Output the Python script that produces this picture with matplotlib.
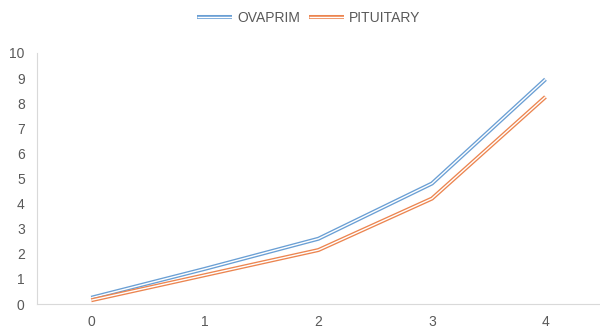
import matplotlib
matplotlib.use('Agg')
import matplotlib.pyplot as plt
import matplotlib.patheffects as pe

# days after injection and measured values for the two hormone treatments
days = [0, 1, 2, 3, 4]
ovaprim = [0.25, 1.4, 2.6, 4.8, 8.95]
pituitary = [0.15, 1.15, 2.15, 4.2, 8.25]

series = [('OVAPRIM', ovaprim, '#6A9FD4'),
          ('PITUITARY', pituitary, '#EC8550')]

plt.rcParams['font.family'] = ['Liberation Sans', 'DejaVu Sans']

fig = plt.figure(figsize=(6, 3.33), dpi=100)
ax = fig.add_axes([0.062, 0.087, 0.938, 0.754])

for name, vals, col in series:
    # double line look: thick coloured stroke with a thin white core
    ax.plot(days, vals, color='white', lw=1.0, label=name,
            solid_capstyle='butt',
            path_effects=[pe.Stroke(linewidth=2.9, foreground=col),
                          pe.Normal()])

ax.set_xlim(-0.476, 4.48)
ax.set_ylim(0, 10)
ax.set_xticks(days)
ax.set_yticks(range(0, 11))

for side in ['top', 'right']:
    ax.spines[side].set_visible(False)
for side in ['left', 'bottom']:
    ax.spines[side].set_color('#d9d9d9')
    ax.spines[side].set_linewidth(0.8)
ax.tick_params(length=0, colors='#595959', labelsize=10)
ax.tick_params(axis='y', pad=9)
ax.tick_params(axis='x', pad=8)

leg = ax.legend(loc='center', ncol=2, frameon=False, fontsize=10,
                handlelength=2.5, columnspacing=0.6, handletextpad=0.4,
                labelcolor='#595959')
leg.set_bbox_to_anchor((0.515, 0.945), transform=fig.transFigure)

fig.savefig('out.png', dpi=100, facecolor='white')
